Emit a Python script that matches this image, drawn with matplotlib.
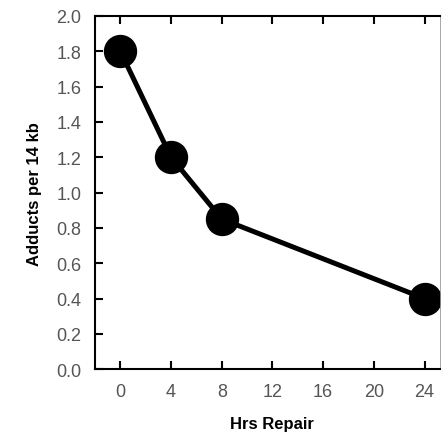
import matplotlib.pyplot as plt

plt.rcParams['font.family'] = ['Liberation Sans', 'DejaVu Sans']

# data set
hrs_repair = [0, 4, 8, 24]
adducts = [1.80, 1.20, 0.85, 0.40]
x_ticks = [0, 4, 8, 12, 16, 20, 24]
y_ticks = [0.0, 0.2, 0.4, 0.6, 0.8, 1.0, 1.2, 1.4, 1.6, 1.8, 2.0]

fig = plt.figure(figsize=(4.42, 4.35), dpi=100)
ax = fig.add_axes([0.215, 0.149, 0.78, 0.812])

ax.plot(hrs_repair, adducts, color='black', linewidth=3.6,
        marker='o', markersize=23, markerfacecolor='black', markeredgecolor='black')

ax.set_xlim(-2, 25.2)
ax.set_ylim(0, 2.0)
ax.set_xticks(x_ticks)
ax.set_yticks(y_ticks)
ax.set_yticklabels(['%.1f' % v for v in y_ticks])

ax.tick_params(axis='both', direction='in', length=6, width=1.5,
               labelsize=13, labelcolor='#555555', pad=10)
ax.tick_params(axis='x', top=True)
for side in ['left', 'bottom', 'top']:
    ax.spines[side].set_linewidth(1.5)
ax.spines['right'].set_linewidth(0.6)
ax.spines['right'].set_color('#999999')

# x label sits low in the original, so place it by figure coords
fig.text(0.615, 0.025, 'Hrs Repair', fontsize=12, fontweight='bold',
         ha='center', va='center')
ax.set_ylabel('Adducts per 14 kb', fontsize=12, fontweight='bold', labelpad=10)

plt.savefig('out.png', dpi=100)
